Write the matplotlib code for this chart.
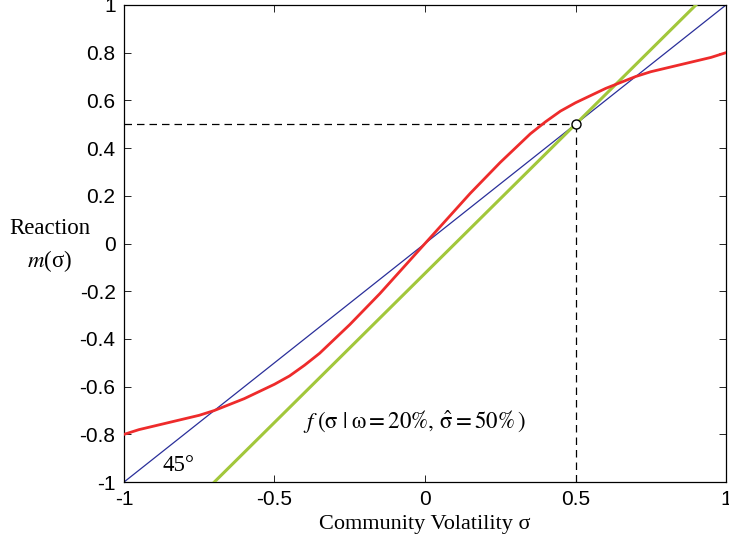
import numpy as np
import matplotlib.pyplot as plt

# ---- data -----------------------------------------------------------------
sigma = [-1.0, -0.95, -0.9, -0.85, -0.8, -0.75, -0.7, -0.65, -0.6, -0.55,
         -0.5, -0.45, -0.4, -0.35, -0.3, -0.25, -0.2, -0.15, -0.1, -0.05,
         0.0, 0.05, 0.1, 0.15, 0.2, 0.25, 0.3, 0.35, 0.4, 0.45,
         0.5, 0.55, 0.6, 0.65, 0.7, 0.75, 0.8, 0.85, 0.9, 0.95, 1.0]
reaction = [-0.80, -0.78, -0.765, -0.75, -0.735, -0.72, -0.70, -0.675, -0.65, -0.62,
            -0.59, -0.555, -0.51, -0.46, -0.40, -0.34, -0.275, -0.21, -0.14, -0.07,
            0.0, 0.07, 0.14, 0.21, 0.275, 0.34, 0.40, 0.46, 0.51, 0.555,
            0.59, 0.62, 0.65, 0.675, 0.70, 0.72, 0.735, 0.75, 0.765, 0.78, 0.80]
diag_x = [-1.0, 1.0]
diag_y = [-1.0, 1.0]
f_x = [-0.70, 0.90]          # tangent line f(sigma | omega=20%, sigma_hat=50%)
f_y = [-1.0, 1.0]
sigma_hat = 0.5
m_hat = 0.5

xticks = [-1, -0.5, 0, 0.5, 1]
xticklabels = ["-1", "-0.5", "0", "0.5", "1"]
yticks = [-1, -0.8, -0.6, -0.4, -0.2, 0, 0.2, 0.4, 0.6, 0.8, 1]
yticklabels = ["-1", "-0.8", "-0.6", "-0.4", "-0.2", "0", "0.2", "0.4", "0.6", "0.8", "1"]

RED = "#ee2b2b"
NAVY = "#2a2f9a"
LIME = "#a2c73b"
SERIF = "Liberation Serif"

plt.rcParams.update({
    "font.family": "Liberation Sans",
    "mathtext.fontset": "stix",
    "axes.linewidth": 0.9,
})

fig = plt.figure(figsize=(7.29, 5.46), dpi=100)
ax = fig.add_axes([0.170, 0.117, 0.826, 0.874])

ax.plot(diag_x, diag_y, color=NAVY, lw=0.9, zorder=2)
ax.plot(f_x, f_y, color=LIME, lw=2.2, zorder=3)
ax.plot(sigma, reaction, color=RED, lw=2.0, zorder=4)

ax.plot([-1, sigma_hat], [m_hat, m_hat], color="black", lw=0.9, ls=(0, (6, 4)), zorder=1)
ax.plot([sigma_hat, sigma_hat], [-1, m_hat], color="black", lw=0.9, ls=(0, (6, 4)), zorder=1)
ax.plot([sigma_hat], [m_hat], marker="o", ms=6.5, mfc="white", mec="black",
        mew=1.0, zorder=6)

ax.text(-0.82, -0.93, "45°", family=SERIF, fontsize=16.5, ha="center", va="center")
ax.text(-0.405, -0.745,
        r"$f\;(\mathrm{\sigma}\;|\;\mathrm{\omega} = 20\%,\, \hat{\mathrm{\sigma}} = 50\%\,)$",
        fontsize=16.5, ha="left", va="center")

ax.set_xlim(-1, 1)
ax.set_ylim(-1, 1)
ax.set_xticks(xticks)
ax.set_xticklabels(xticklabels)
ax.set_yticks(yticks)
ax.set_yticklabels(yticklabels)
ax.tick_params(direction="in", length=5, width=0.6, labelsize=15,
               top=True, right=True, pad=6)

ax.set_xlabel("Community Volatility σ", family=SERIF, fontsize=16, labelpad=4)
fig.text(0.068, 0.582, "Reaction", family=SERIF, fontsize=16.5, ha="center", va="center")
fig.text(0.068, 0.522, r"$m$(σ)", family=SERIF, fontsize=16.5, ha="center", va="center")

fig.savefig("out.png", dpi=100)
